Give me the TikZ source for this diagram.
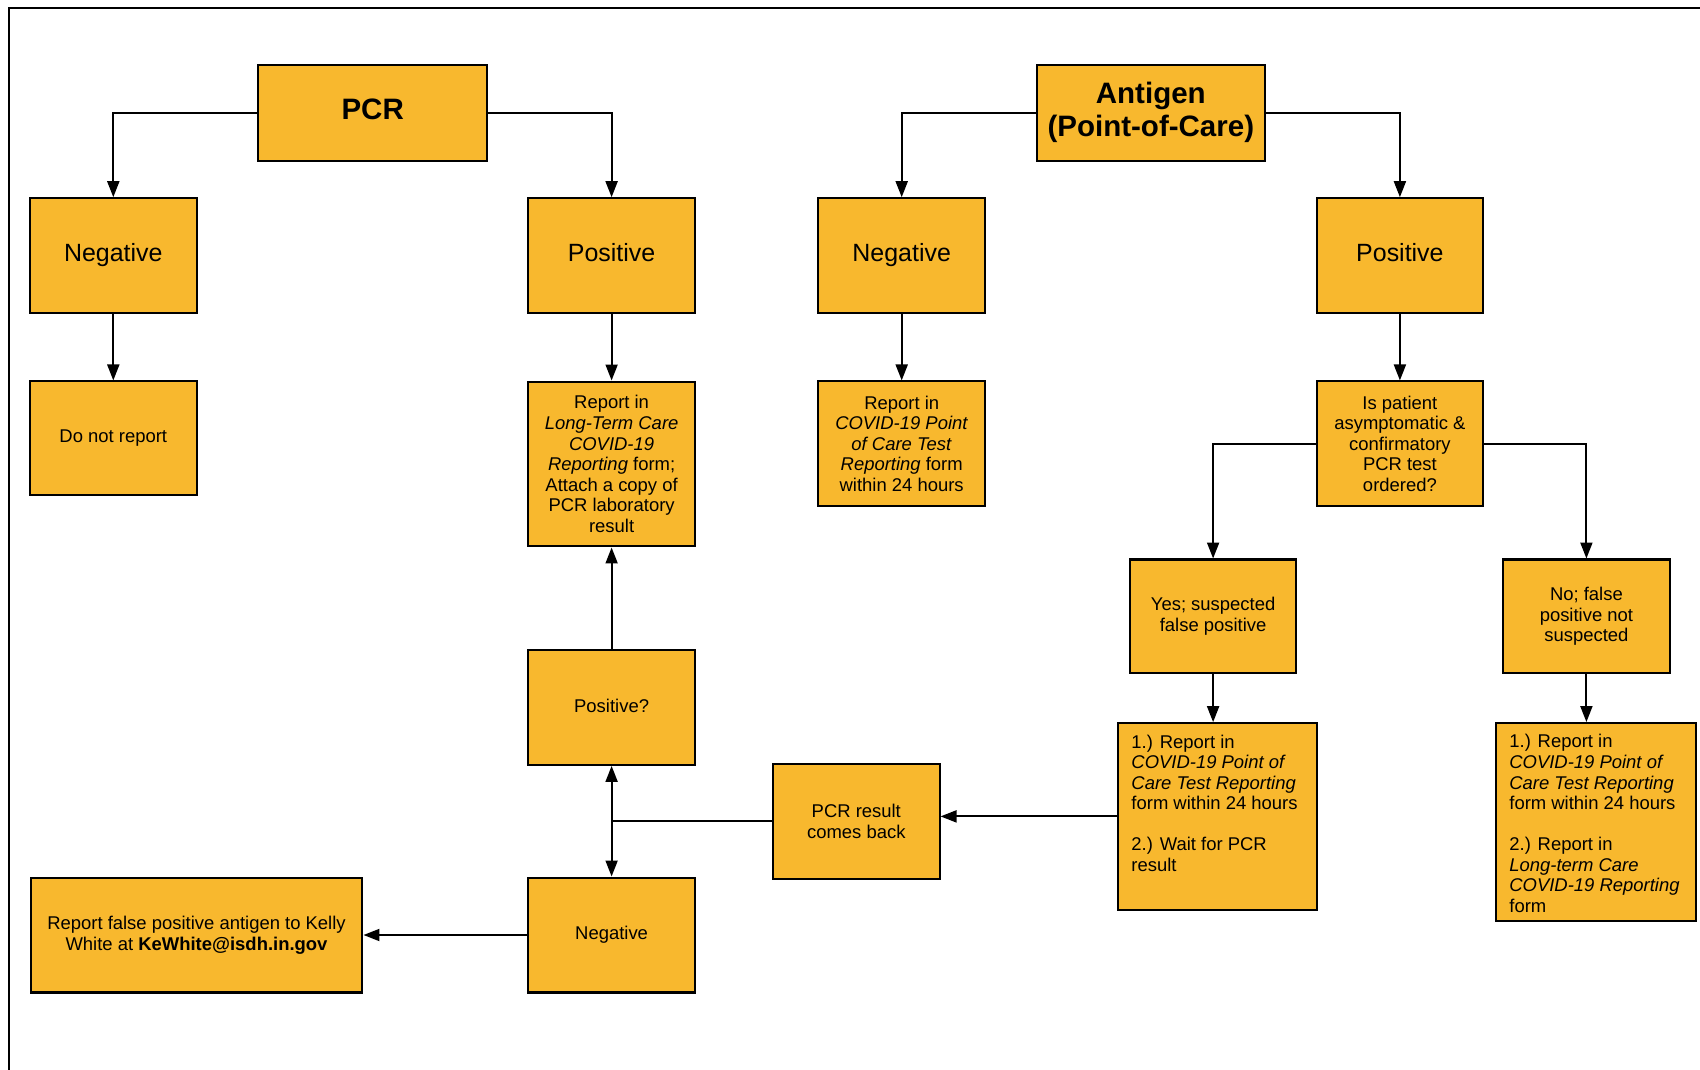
\documentclass[tikz,border=0pt]{standalone}
\usepackage{fontspec}
\setmainfont{Liberation Sans}
\usetikzlibrary{arrows.meta}
\definecolor{boxfill}{HTML}{F8B82E}

\begin{document}
\begin{tikzpicture}[x=0.02cm,y=-0.02cm,
    box/.style={draw=black,line width=1.15pt,fill=boxfill,align=center,inner sep=2pt,
        minimum width=3.33cm,minimum height=2.3cm,font=\fontsize{10.5}{11.7}\selectfont},
    bigbox/.style={box,text height=10pt,text depth=3.5pt,font=\fontsize{14.2}{17}\selectfont},
    headbox/.style={box,minimum width=4.57cm,minimum height=1.92cm,
        font=\bfseries\fontsize{16.8}{18.8}\selectfont},
    link/.style={line width=1.1pt,-{Triangle[length=0.32cm,width=0.24cm]}}]
    \useasboundingbox (0,0) rectangle (1700,1070);
    \draw [line width=1.1pt] (9,1070) -- (9,8) -- (1700,8);

    \node [headbox,text depth=4pt] (pcr) at (372.7,113) {PCR};
    \node [headbox] (antigen) at (1150.8,112.6) {Antigen\\(Point-of-Care)};
    \node [bigbox] (pcrneg) at (113.3,255.7) {Negative};
    \node [bigbox] (pcrpos) at (611.6,255.7) {Positive};
    \node [bigbox] (agneg) at (901.7,255.7) {Negative};
    \node [bigbox] (agpos) at (1399.9,255.7) {Positive};

    \node [box,minimum height=2.27cm] (noreport) at (113.3,438.2) {Do not report};
    \node [box,minimum height=3.3cm] (ltcreport) at (611.6,464)
        {Report in\\\textit{Long-Term Care}\\\textit{COVID-19}\\\textit{Reporting} form;\\
         Attach a copy of\\PCR laboratory\\result};
    \node [box,minimum height=2.49cm] (pocreport) at (901.7,443.7)
        {Report in\\\textit{COVID-19 Point}\\\textit{of Care Test}\\\textit{Reporting} form\\within 24 hours};
    \node [box,minimum height=2.49cm] (askpcr) at (1399.9,443.7)
        {Is patient\\asymptomatic \&\\confirmatory\\PCR test\\ordered?};

    \node [box,minimum height=2.28cm] (suspect) at (1213.1,616.5) {Yes; suspected\\false positive};
    \node [box,minimum height=2.28cm] (nosuspect) at (1586.4,616.5) {No; false\\positive not\\suspected};
    \node [box,minimum width=3.99cm,minimum height=3.73cm] (waitpcr) at (1217.7,816.4)
        {\parbox[c][3.27cm][t]{3.45cm}{\raggedright 1.) Report in\\\textit{COVID-19 Point of}\\
         \textit{Care Test Reporting}\\form within 24 hours\\[11.7pt]2.) Wait for PCR\\result}};
    \node [box,minimum width=4cm,minimum height=3.95cm] (reportboth) at (1595.6,821.8)
        {\parbox[c][3.49cm][t]{3.45cm}{\raggedright 1.) Report in\\\textit{COVID-19 Point of}\\
         \textit{Care Test Reporting}\\form within 24 hours\\[11.7pt]2.) Report in\\
         \textit{Long-term Care}\\\textit{COVID-19 Reporting}\\form}};

    \node [box,text depth=2pt] (posq) at (611.6,707.4) {Positive?};
    \node [box] (pcrback) at (856.3,821.4) {PCR result\\comes back};
    \node [box] (negback) at (611.6,935) {Negative};
    \node [box,minimum width=6.64cm] (falsepos) at (196.5,935)
        {Report false positive antigen to Kelly\\White at \textbf{KeWhite@isdh.in.gov}};

    \draw [link] (pcr.west) -| (pcrneg.north);
    \draw [link] (pcr.east) -| (pcrpos.north);
    \draw [link] (antigen.west) -| (agneg.north);
    \draw [link] (antigen.east) -| (agpos.north);
    \draw [link] (pcrneg.south) -- (noreport.north);
    \draw [link] (pcrpos.south) -- (ltcreport.north);
    \draw [link] (agneg.south) -- (pocreport.north);
    \draw [link] (agpos.south) -- (askpcr.north);
    \draw [link] (askpcr.west) -| (suspect.north);
    \draw [link] (askpcr.east) -| (nosuspect.north);
    \draw [link] (suspect.south) -- (suspect.south |- waitpcr.north);
    \draw [link] (nosuspect.south) -- (nosuspect.south |- reportboth.north);
    \draw [link] (waitpcr.west) -- (waitpcr.west -| pcrback.east);
    \draw [link] (pcrback.west) -| (posq.south);
    \draw [link] (pcrback.west) -| (negback.north);
    \draw [link] (posq.north) -- (ltcreport.south);
    \draw [link] (negback.west) -- (falsepos.east);
\end{tikzpicture}
\end{document}
